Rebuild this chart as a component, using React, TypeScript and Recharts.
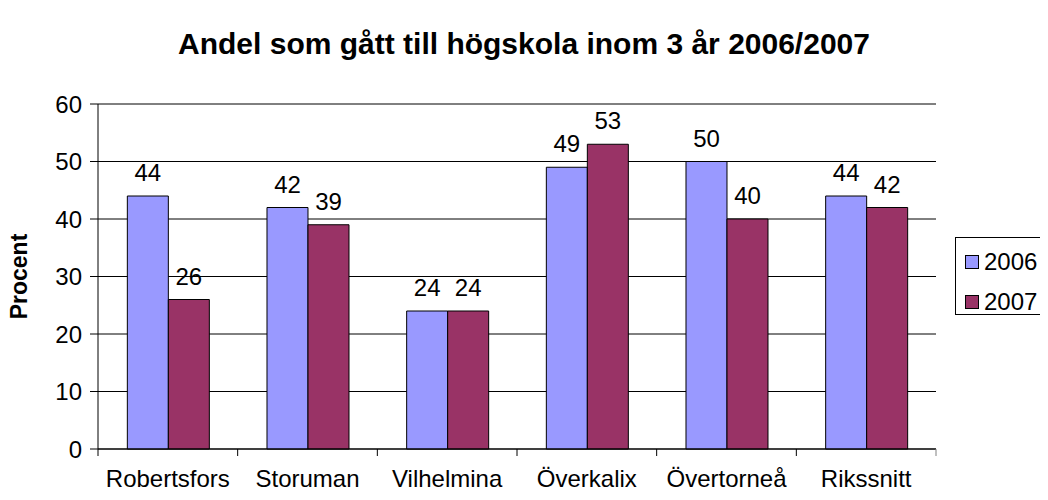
import { BarChart, Bar, XAxis, YAxis, CartesianGrid, LabelList } from 'recharts';

const categories = ['Robertsfors', 'Storuman', 'Vilhelmina', 'Överkalix', 'Övertorneå', 'Rikssnitt'];
const values2006 = [44, 42, 24, 49, 50, 44];
const values2007 = [26, 39, 24, 53, 40, 42];
const yTicks = [0, 10, 20, 30, 40, 50, 60];
const seriesNames = ['2006', '2007'];
const seriesColors = ['#9999FF', '#993366'];

const data = categories.map((name, i) => ({ name, v2006: values2006[i], v2007: values2007[i] }));

const FONT = '"Liberation Sans", Arial, sans-serif';

const XTick = (props: any) => {
  const { x, y, payload, index, visibleTicksCount } = props;
  const half = payload?.offset ?? 70;
  const top = y - 7;
  return (
    <g>
      <line x1={x - half} x2={x - half} y1={top} y2={top + 7} stroke="#000" />
      {index === visibleTicksCount - 1 && (
        <line x1={x + half} x2={x + half} y1={top} y2={top + 7} stroke="#808080" />
      )}
      <text x={x} y={y + 31} textAnchor="middle" fill="#000" fontSize={24} fontFamily={FONT}>
        {payload.value}
      </text>
    </g>
  );
};

const YLabel = (props: any) => {
  const { viewBox } = props;
  const cx = viewBox.x + 19;
  const cy = viewBox.y + viewBox.height / 2;
  return (
    <text x={cx} y={cy} transform={`rotate(-90 ${cx} ${cy})`} textAnchor="middle" dominantBaseline="central"
      fontSize={23} fontWeight="bold" fontFamily={FONT} fill="#000">
      Procent
    </text>
  );
};

export default function App() {
  return (
    <div style={{ position: 'relative', width: 1048, height: 500, margin: -8, background: '#fff', fontFamily: FONT }}>
      <div style={{ position: 'absolute', left: 0, top: 27, width: 1048, textAlign: 'center', fontSize: 30, fontWeight: 'bold', color: '#000' }}>
        Andel som gått till högskola inom 3 år 2006/2007
      </div>
      <BarChart width={1048} height={500} data={data} margin={{ top: 104, right: 112, bottom: 0, left: 0 }}
        barCategoryGap="21%" barGap={0}>
        <CartesianGrid vertical={false} stroke="#000" />
        <XAxis dataKey="name" height={51} tickLine={false} tickSize={7} tickMargin={0}
          axisLine={{ stroke: '#000' }} tick={<XTick />} interval={0} />
        <YAxis domain={[0, 60]} ticks={yTicks} width={98} tickSize={8} tickMargin={8}
          axisLine={{ stroke: '#000' }} tickLine={{ stroke: '#000' }}
          tick={{ fill: '#000', fontSize: 24, fontFamily: FONT }} label={<YLabel />} />
        <YAxis yAxisId="r" orientation="right" width={0} tick={false} tickLine={false} axisLine={{ stroke: '#808080' }} />
        <Bar dataKey="v2006" name={seriesNames[0]} fill={seriesColors[0]} stroke="#000" strokeWidth={1} isAnimationActive={false}>
          <LabelList dataKey="v2006" position="top" offset={15} fill="#000" fontSize={24} fontFamily={FONT} />
        </Bar>
        <Bar dataKey="v2007" name={seriesNames[1]} fill={seriesColors[1]} stroke="#000" strokeWidth={1} isAnimationActive={false}>
          <LabelList dataKey="v2007" position="top" offset={15} fill="#000" fontSize={24} fontFamily={FONT} />
        </Bar>
      </BarChart>
      <div style={{ position: 'absolute', left: 955, top: 237, width: 92, height: 78, boxSizing: 'border-box', border: '1px solid #000', background: '#fff' }}>
        {seriesNames.map((name, i) => (
          <div key={name} style={{ position: 'absolute', left: 9, top: 9 + i * 40, display: 'flex', alignItems: 'center', fontSize: 24, color: '#000', lineHeight: '30px' }}>
            <span style={{ width: 12, height: 12, border: '1px solid #000', background: seriesColors[i], marginRight: 5, display: 'inline-block' }} />
            {name}
          </div>
        ))}
      </div>
    </div>
  );
}
